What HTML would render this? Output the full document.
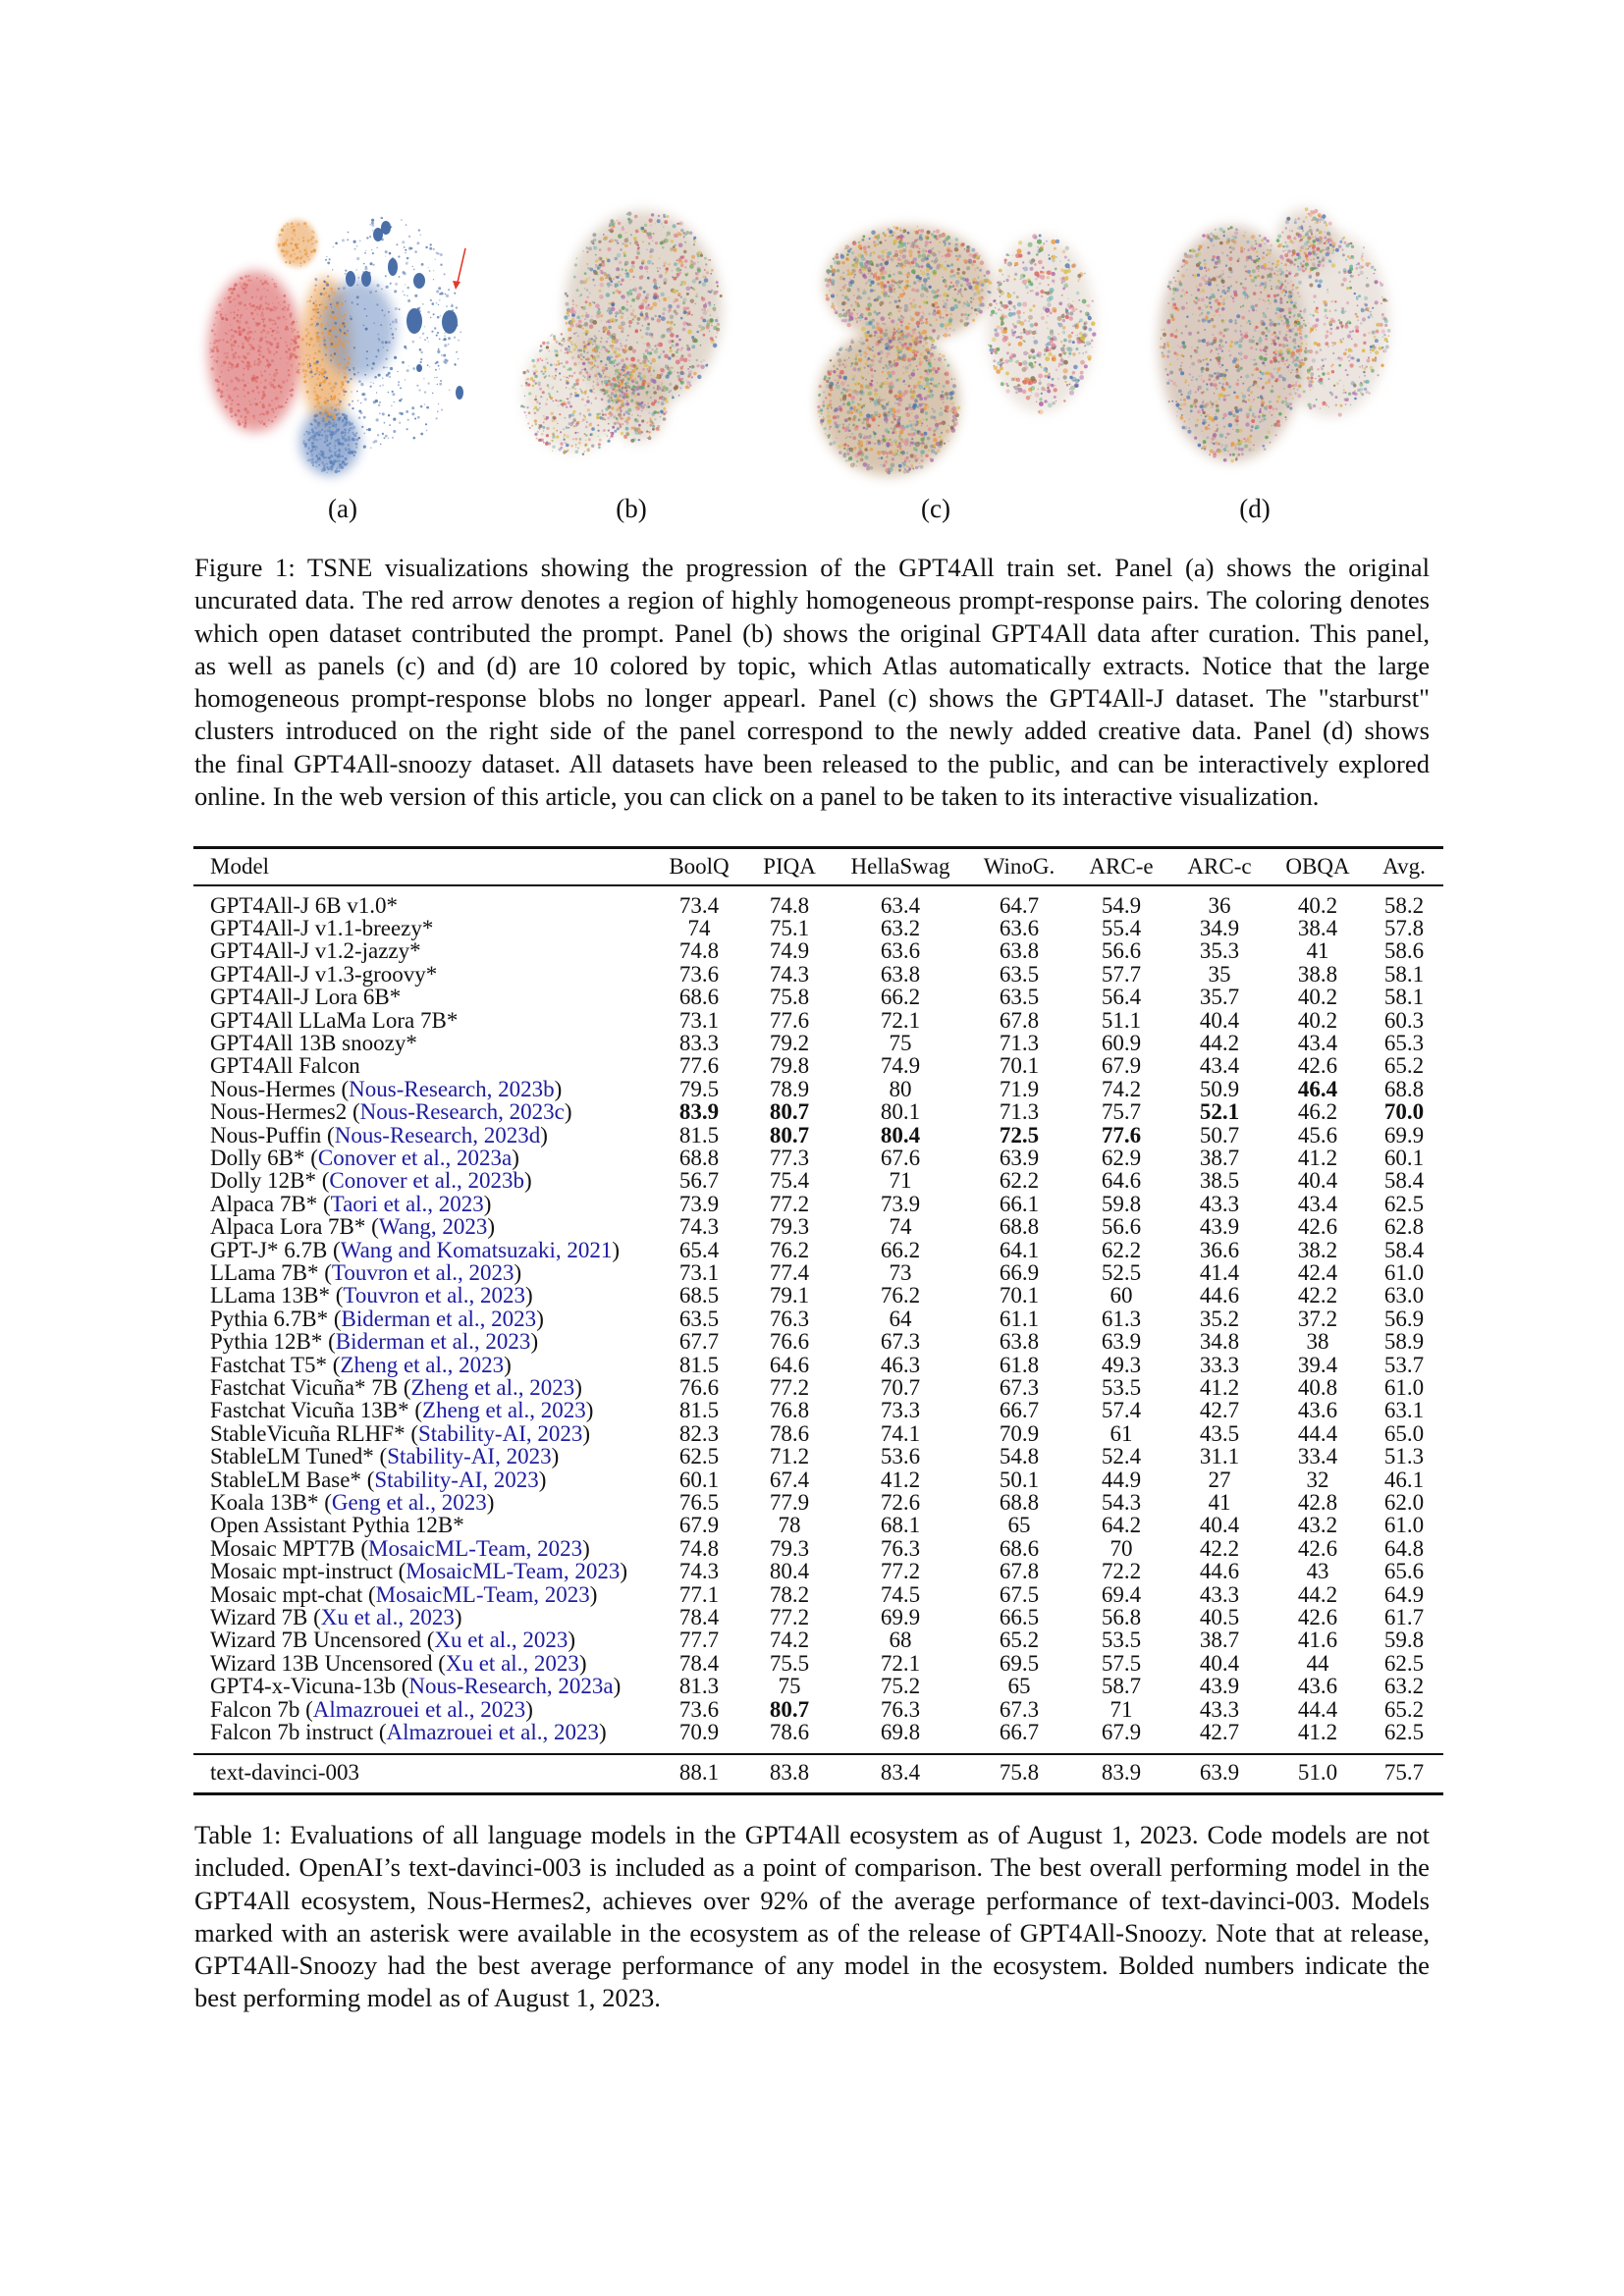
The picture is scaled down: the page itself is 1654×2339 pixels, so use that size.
<!DOCTYPE html>
<html><head><meta charset="utf-8">
<style>
html,body{margin:0;padding:0;background:#fff;}
body{width:1654px;height:2339px;position:relative;overflow:hidden;font-family:"Liberation Serif","Times New Roman",serif;color:#111;}
.abs{position:absolute;}
.cap{position:absolute;left:198px;width:1258px;font-size:26.6px;line-height:33.3px;text-align:justify;}
.cap div{white-space:nowrap;text-align:justify;text-align-last:justify;}
.cap div.last{text-align-last:left;}
.rule{position:absolute;left:197px;width:1273px;background:#111;}
.row{position:absolute;left:0;width:1654px;height:23.4px;font-size:23px;line-height:23.4px;}
.row span{position:absolute;white-space:nowrap;}
.num{transform:translateX(-50%);}
.cite{color:#1d1d9e;}
.plabel{position:absolute;font-size:27px;transform:translateX(-50%);}
</style></head><body>

<svg id="panels" class="abs" style="left:0;top:180px" width="1654" height="320" viewBox="0 180 1654 320">
<defs>
<filter id="b6" x="-30%" y="-30%" width="160%" height="160%"><feGaussianBlur stdDeviation="6"/></filter>
<filter id="b3" x="-30%" y="-30%" width="160%" height="160%"><feGaussianBlur stdDeviation="3"/></filter>
</defs>
<g id="pa">
 <ellipse cx="260" cy="358" rx="48" ry="82" fill="#e07d7d" opacity="0.75" filter="url(#b6)"/>
 <ellipse cx="303" cy="248" rx="20" ry="24" fill="#eaa25a" opacity="0.6" filter="url(#b3)"/>
 <ellipse cx="332" cy="358" rx="26" ry="76" fill="#eca55c" opacity="0.7" filter="url(#b6)"/>
 <ellipse cx="365" cy="335" rx="38" ry="50" fill="#6f8fc2" opacity="0.55" filter="url(#b6)"/>
 <ellipse cx="336" cy="450" rx="30" ry="34" fill="#6f8fc2" opacity="0.7" filter="url(#b6)"/>
 <g fill="#4a6fa8">
  <ellipse cx="385" cy="239" rx="5" ry="7"/><ellipse cx="400" cy="272" rx="5" ry="9"/>
  <ellipse cx="357" cy="284" rx="5" ry="8"/><ellipse cx="373" cy="284" rx="5" ry="8"/>
  <ellipse cx="427" cy="286" rx="6" ry="8"/><ellipse cx="393" cy="232" rx="5" ry="7"/>
  <ellipse cx="422" cy="327" rx="8" ry="13"/><ellipse cx="458" cy="328" rx="8" ry="12"/>
  <ellipse cx="468" cy="400" rx="4" ry="7"/><ellipse cx="427" cy="375" rx="3" ry="4"/>
 </g>
 <line x1="474" y1="253" x2="465" y2="292" stroke="#e23a2a" stroke-width="1.6"/>
 <polygon points="461,286 469,287 464,295" fill="#e23a2a"/>
 <g id="pa-dots"></g>
</g>
<g id="pb">
 <ellipse cx="655" cy="315" rx="80" ry="100" fill="#c9b7a4" opacity="0.55" filter="url(#b6)"/>
 <ellipse cx="585" cy="400" rx="52" ry="60" fill="#d8cab8" opacity="0.45" filter="url(#b6)"/>
 <ellipse cx="650" cy="410" rx="30" ry="40" fill="#cdb9a8" opacity="0.5" filter="url(#b6)"/>
 <g id="pb-dots"></g>
</g>
<g id="pc">
 <ellipse cx="905" cy="410" rx="72" ry="75" fill="#c7ad8e" opacity="0.7" filter="url(#b6)"/>
 <ellipse cx="925" cy="290" rx="85" ry="60" fill="#c9ae92" opacity="0.65" filter="url(#b6)"/>
 <ellipse cx="1060" cy="330" rx="55" ry="90" fill="#dccfc2" opacity="0.5" filter="url(#b6)"/>
 <g id="pc-dots"></g>
</g>
<g id="pd">
 <ellipse cx="1255" cy="350" rx="75" ry="120" fill="#cbb5a6" opacity="0.7" filter="url(#b6)"/>
 <ellipse cx="1355" cy="330" rx="60" ry="95" fill="#d9cbc0" opacity="0.5" filter="url(#b6)"/>
 <ellipse cx="1330" cy="245" rx="30" ry="32" fill="#cdb9aa" opacity="0.5" filter="url(#b6)"/>
 <g id="pd-dots"></g>
</g>
</svg>

<div class="plabel" style="left:349px;top:503px">(a)</div>
<div class="plabel" style="left:643px;top:503px">(b)</div>
<div class="plabel" style="left:953px;top:503px">(c)</div>
<div class="plabel" style="left:1278px;top:503px">(d)</div>

<div class="cap" style="top:562px">
<div>Figure 1: TSNE visualizations showing the progression of the GPT4All train set. Panel (a) shows the original</div>
<div>uncurated data. The red arrow denotes a region of highly homogeneous prompt-response pairs. The coloring denotes</div>
<div>which open dataset contributed the prompt. Panel (b) shows the original GPT4All data after curation. This panel,</div>
<div>as well as panels (c) and (d) are 10 colored by topic, which Atlas automatically extracts. Notice that the large</div>
<div>homogeneous prompt-response blobs no longer appearl. Panel (c) shows the GPT4All-J dataset. The "starburst"</div>
<div>clusters introduced on the right side of the panel correspond to the newly added creative data. Panel (d) shows</div>
<div>the final GPT4All-snoozy dataset. All datasets have been released to the public, and can be interactively explored</div>
<div class="last">online. In the web version of this article, you can click on a panel to be taken to its interactive visualization.</div>
</div>

<div id="table">
<div class="rule" style="top:862px;height:2.5px"></div>
<div class="rule" style="top:901px;height:1.5px"></div>
<div class="rule" style="top:1786px;height:1.5px"></div>
<div class="rule" style="top:1826px;height:2.5px"></div>
<div id="rows"></div>
</div>

<div class="cap" style="top:1853px">
<div>Table 1: Evaluations of all language models in the GPT4All ecosystem as of August 1, 2023. Code models are not</div>
<div>included. OpenAI’s text-davinci-003 is included as a point of comparison. The best overall performing model in the</div>
<div>GPT4All ecosystem, Nous-Hermes2, achieves over 92% of the average performance of text-davinci-003. Models</div>
<div>marked with an asterisk were available in the ecosystem as of the release of GPT4All-Snoozy. Note that at release,</div>
<div>GPT4All-Snoozy had the best average performance of any model in the ecosystem. Bolded numbers indicate the</div>
<div class="last">best performing model as of August 1, 2023.</div>
</div>

<script>
const columns = ["BoolQ","PIQA","HellaSwag","WinoG.","ARC-e","ARC-c","OBQA","Avg."];
const models = ["GPT4All-J 6B v1.0*","GPT4All-J v1.1-breezy*","GPT4All-J v1.2-jazzy*","GPT4All-J v1.3-groovy*","GPT4All-J Lora 6B*","GPT4All LLaMa Lora 7B*","GPT4All 13B snoozy*","GPT4All Falcon","Nous-Hermes","Nous-Hermes2","Nous-Puffin","Dolly 6B*","Dolly 12B*","Alpaca 7B*","Alpaca Lora 7B*","GPT-J* 6.7B","LLama 7B*","LLama 13B*","Pythia 6.7B*","Pythia 12B*","Fastchat T5*","Fastchat Vicuña* 7B","Fastchat Vicuña 13B*","StableVicuña RLHF*","StableLM Tuned*","StableLM Base*","Koala 13B*","Open Assistant Pythia 12B*","Mosaic MPT7B","Mosaic mpt-instruct","Mosaic mpt-chat","Wizard 7B","Wizard 7B Uncensored","Wizard 13B Uncensored","GPT4-x-Vicuna-13b","Falcon 7b","Falcon 7b instruct"];
const citations = ["","","","","","","","","Nous-Research, 2023b","Nous-Research, 2023c","Nous-Research, 2023d","Conover et al., 2023a","Conover et al., 2023b","Taori et al., 2023","Wang, 2023","Wang and Komatsuzaki, 2021","Touvron et al., 2023","Touvron et al., 2023","Biderman et al., 2023","Biderman et al., 2023","Zheng et al., 2023","Zheng et al., 2023","Zheng et al., 2023","Stability-AI, 2023","Stability-AI, 2023","Stability-AI, 2023","Geng et al., 2023","","MosaicML-Team, 2023","MosaicML-Team, 2023","MosaicML-Team, 2023","Xu et al., 2023","Xu et al., 2023","Xu et al., 2023","Nous-Research, 2023a","Almazrouei et al., 2023","Almazrouei et al., 2023"];
const boolq = ["73.4","74","74.8","73.6","68.6","73.1","83.3","77.6","79.5","83.9","81.5","68.8","56.7","73.9","74.3","65.4","73.1","68.5","63.5","67.7","81.5","76.6","81.5","82.3","62.5","60.1","76.5","67.9","74.8","74.3","77.1","78.4","77.7","78.4","81.3","73.6","70.9"];
const piqa = ["74.8","75.1","74.9","74.3","75.8","77.6","79.2","79.8","78.9","80.7","80.7","77.3","75.4","77.2","79.3","76.2","77.4","79.1","76.3","76.6","64.6","77.2","76.8","78.6","71.2","67.4","77.9","78","79.3","80.4","78.2","77.2","74.2","75.5","75","80.7","78.6"];
const hellaswag = ["63.4","63.2","63.6","63.8","66.2","72.1","75","74.9","80","80.1","80.4","67.6","71","73.9","74","66.2","73","76.2","64","67.3","46.3","70.7","73.3","74.1","53.6","41.2","72.6","68.1","76.3","77.2","74.5","69.9","68","72.1","75.2","76.3","69.8"];
const winog = ["64.7","63.6","63.8","63.5","63.5","67.8","71.3","70.1","71.9","71.3","72.5","63.9","62.2","66.1","68.8","64.1","66.9","70.1","61.1","63.8","61.8","67.3","66.7","70.9","54.8","50.1","68.8","65","68.6","67.8","67.5","66.5","65.2","69.5","65","67.3","66.7"];
const arce = ["54.9","55.4","56.6","57.7","56.4","51.1","60.9","67.9","74.2","75.7","77.6","62.9","64.6","59.8","56.6","62.2","52.5","60","61.3","63.9","49.3","53.5","57.4","61","52.4","44.9","54.3","64.2","70","72.2","69.4","56.8","53.5","57.5","58.7","71","67.9"];
const arcc = ["36","34.9","35.3","35","35.7","40.4","44.2","43.4","50.9","52.1","50.7","38.7","38.5","43.3","43.9","36.6","41.4","44.6","35.2","34.8","33.3","41.2","42.7","43.5","31.1","27","41","40.4","42.2","44.6","43.3","40.5","38.7","40.4","43.9","43.3","42.7"];
const obqa = ["40.2","38.4","41","38.8","40.2","40.2","43.4","42.6","46.4","46.2","45.6","41.2","40.4","43.4","42.6","38.2","42.4","42.2","37.2","38","39.4","40.8","43.6","44.4","33.4","32","42.8","43.2","42.6","43","44.2","42.6","41.6","44","43.6","44.4","41.2"];
const avg = ["58.2","57.8","58.6","58.1","58.1","60.3","65.3","65.2","68.8","70.0","69.9","60.1","58.4","62.5","62.8","58.4","61.0","63.0","56.9","58.9","53.7","61.0","63.1","65.0","51.3","46.1","62.0","61.0","64.8","65.6","64.9","61.7","59.8","62.5","63.2","65.2","62.5"];
const davinci = ["88.1","83.8","83.4","75.8","83.9","63.9","51.0","75.7"];
const boldCells = ["8-6","9-0","9-1","9-5","9-7","10-1","10-2","10-3","10-4","35-1"];

const colX = [712,804,917,1038,1142,1242,1342,1430];
const rowsEl = document.getElementById('rows');
function yRow(i){ return 910.5 + i*23.4; }

function addRow(top, name, cite, vals, rowIdx, rname){
  const r = document.createElement('div');
  r.className = 'row';
  r.style.top = top + 'px';
  
  
  const m = document.createElement('span');
  m.style.left = '214px';
  
  
  m.innerHTML = cite ? name + ' (<span class="cite" style="position:static">' + cite + '</span>)' : name;
  r.appendChild(m);
  vals.forEach(function(v, c){
    const s = document.createElement('span');
    s.className = 'num';
    s.style.left = colX[c] + 'px';
    s.textContent = v;
    if (boldCells.indexOf(rowIdx + '-' + c) >= 0) s.style.fontWeight = 'bold';
    
    
    r.appendChild(s);
  });
  rowsEl.appendChild(r);
}
addRow(870.5, 'Model', '', columns, -1, 'header-row');
for (let i = 0; i < models.length; i++) {
  addRow(yRow(i), models[i], citations[i], [boolq[i],piqa[i],hellaswag[i],winog[i],arce[i],arcc[i],obqa[i],avg[i]], i, 'model-row');
}
addRow(1793.5, 'text-davinci-003', '', davinci, -2, 'davinci-row');
document.querySelectorAll('.cite').forEach(function(e){
  
  
});

let seed = 12345;
function rnd(){ seed = (seed * 1103515245 + 12345) % 2147483648; return seed / 2147483648; }
const NS = 'http://www.w3.org/2000/svg';
const pal = ['#d95f5f','#e8963a','#4a72b0','#5aa05a','#a55fa5','#d9b83a','#8c6a4a','#6ab0b0','#e08aa0','#9a9a9a'];
function speckle(gid, cx, cy, rx, ry, n, colors, size){
  const g = document.getElementById(gid);
  for (let k = 0; k < n; k++) {
    const a = rnd() * Math.PI * 2, rr = Math.sqrt(rnd());
    const c = document.createElementNS(NS, 'circle');
    c.setAttribute('cx', (cx + Math.cos(a) * rr * rx).toFixed(1));
    c.setAttribute('cy', (cy + Math.sin(a) * rr * ry).toFixed(1));
    c.setAttribute('r', (0.6 + rnd() * size).toFixed(1));
    c.setAttribute('fill', colors[Math.floor(rnd() * colors.length)]);
    c.setAttribute('opacity', (0.35 + rnd() * 0.5).toFixed(2));
    g.appendChild(c);
  }
}
speckle('pa-dots', 260, 358, 46, 80, 500, ['#d96060','#e07070'], 1.2);
speckle('pa-dots', 332, 358, 24, 72, 250, ['#e8963a'], 1.2);
speckle('pa-dots', 303, 248, 20, 24, 80, ['#e8963a'], 1.2);
speckle('pa-dots', 390, 340, 80, 120, 450, ['#4a6fa8'], 1.0);
speckle('pa-dots', 336, 450, 28, 32, 250, ['#5a7fb8'], 1.2);
speckle('pb-dots', 655, 315, 80, 100, 900, pal, 1.8);
speckle('pb-dots', 585, 400, 55, 65, 500, pal, 1.2);
speckle('pb-dots', 650, 410, 30, 40, 200, pal, 1.5);
speckle('pc-dots', 905, 410, 72, 75, 900, pal, 1.8);
speckle('pc-dots', 925, 290, 85, 60, 800, pal, 1.8);
speckle('pc-dots', 1060, 330, 55, 90, 500, pal, 2.0);
speckle('pd-dots', 1255, 350, 75, 120, 1000, pal, 1.6);
speckle('pd-dots', 1355, 330, 60, 95, 500, pal, 1.6);
speckle('pd-dots', 1330, 245, 30, 32, 150, pal, 1.6);
</script>
</body></html>
